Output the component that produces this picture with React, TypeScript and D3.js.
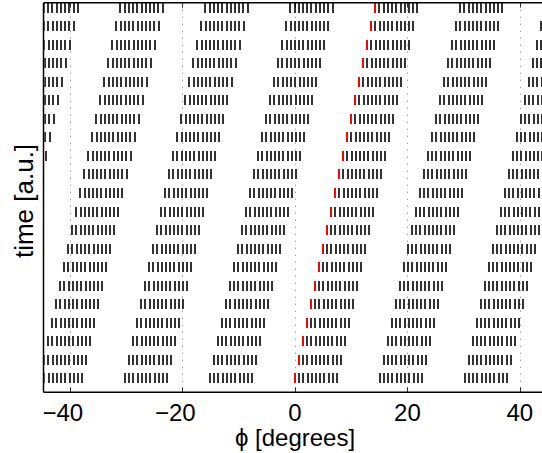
import React from "react";
import * as d3 from "d3";

// Shift (degrees) of the pattern in each time row, bottom row first
const ROW_SHIFT = [0, 0.71, 1.43, 2.14, 2.86, 3.57, 4.29, 5.0, 5.71, 6.43, 7.14, 7.86, 8.57, 9.29, 10.0, 10.71, 11.43, 12.14, 12.86, 13.57, 14.29];
// Start angle (degrees) of each group of marks in the bottom row
const GROUP_START = [-60.4, -45.3, -30.2, -15.1, 0, 15.1, 30.2, 45.3];
// Offsets (degrees) of the marks inside one group
const BAR_OFFSET = [0, 0.75, 1.5, 2.25, 3.0, 3.75, 4.5, 5.25, 6.0, 6.75, 7.5];
// Group whose first mark is highlighted in red
const TRACKED_GROUP = 4;
const X_TICKS = [-40, -20, 0, 20, 40];

const W = 542;
const H = 453;
const LEFT = 43.5;
const RIGHT = 548;
const TOP = 2.7;
const BOTTOM = 392.3;

export default function App() {
  const x = d3.scaleLinear().domain([-44.7, 45]).range([LEFT, RIGHT]);
  const y = d3.scaleLinear().domain([-0.755, 20.27]).range([BOTTOM, TOP]);
  const barH = 10;
  const barW = 2;

  const bars: { x: number; y: number; red: boolean; key: string }[] = [];
  ROW_SHIFT.forEach((shift, r) => {
    GROUP_START.forEach((g, gi) => {
      BAR_OFFSET.forEach((off, k) => {
        const v = g + shift + off;
        const px = Math.round(x(v) - barW / 2);
        if (px < LEFT - 1 || px > W) return;
        bars.push({
          x: px,
          y: Math.round(y(r) - barH / 2),
          red: gi === TRACKED_GROUP && k === 0,
          key: `${r}-${gi}-${k}`,
        });
      });
    });
  });

  const fmt = (t: number) => (t < 0 ? "\u2212" + Math.abs(t) : String(t));

  return (
    <svg
      width={W}
      height={H}
      style={{ position: "absolute", left: 0, top: 0, background: "#fff" }}
      fontFamily="'Liberation Sans', Arial, Helvetica, sans-serif"
    >
      <defs>
        <clipPath id="plot">
          <rect x={LEFT + 0.75} y={TOP} width={RIGHT - LEFT} height={BOTTOM - TOP} />
        </clipPath>
      </defs>
      {/* grid */}
      {X_TICKS.map((t) => (
        <line
          key={"g" + t}
          x1={Math.round(x(t)) + 0.5}
          x2={Math.round(x(t)) + 0.5}
          y1={TOP}
          y2={BOTTOM}
          stroke="#777"
          strokeWidth={1}
          strokeDasharray="1,6"
        />
      ))}
      <g clipPath="url(#plot)" shapeRendering="crispEdges">
        {bars
          .filter((b) => !b.red)
          .map((b) => (
            <rect key={b.key} x={b.x} y={b.y} width={barW} height={barH} fill="#333" />
          ))}
        {bars
          .filter((b) => b.red)
          .map((b) => (
            <rect key={b.key} x={b.x} y={b.y} width={barW} height={barH} fill="#ff0000" />
          ))}
      </g>
      {/* ticks */}
      {X_TICKS.map((t) => (
        <g key={"t" + t}>
          <line x1={Math.round(x(t)) + 0.5} x2={Math.round(x(t)) + 0.5} y1={BOTTOM} y2={BOTTOM - 5} stroke="#000" strokeWidth={0.8} />
          <line x1={Math.round(x(t)) + 0.5} x2={Math.round(x(t)) + 0.5} y1={TOP} y2={TOP + 5} stroke="#000" strokeWidth={0.8} />
        </g>
      ))}
      {/* axes box */}
      <line x1={LEFT} x2={LEFT} y1={TOP} y2={BOTTOM} stroke="#000" strokeWidth={1.5} />
      <line x1={LEFT} x2={RIGHT} y1={BOTTOM} y2={BOTTOM} stroke="#000" strokeWidth={1.5} />
      <line x1={LEFT} x2={RIGHT} y1={TOP} y2={TOP} stroke="#000" strokeWidth={1.5} />
      {/* tick labels */}
      {X_TICKS.map((t) => (
        <text
          key={"l" + t}
          x={t < 0 ? x(t) + 13.3 : x(t)}
          y={421}
          fontSize={24}
          textAnchor={t < 0 ? "end" : "middle"}
          fill="#000"
        >
          {fmt(t)}
        </text>
      ))}
      <text x={295} y={446} fontSize={24} textAnchor="middle" fill="#000">
        {"\u03D5 [degrees]"}
      </text>
      <text
        transform="translate(33,201) rotate(-90)"
        fontSize={26}
        textAnchor="middle"
        fill="#000"
      >
        time [a.u.]
      </text>
    </svg>
  );
}
